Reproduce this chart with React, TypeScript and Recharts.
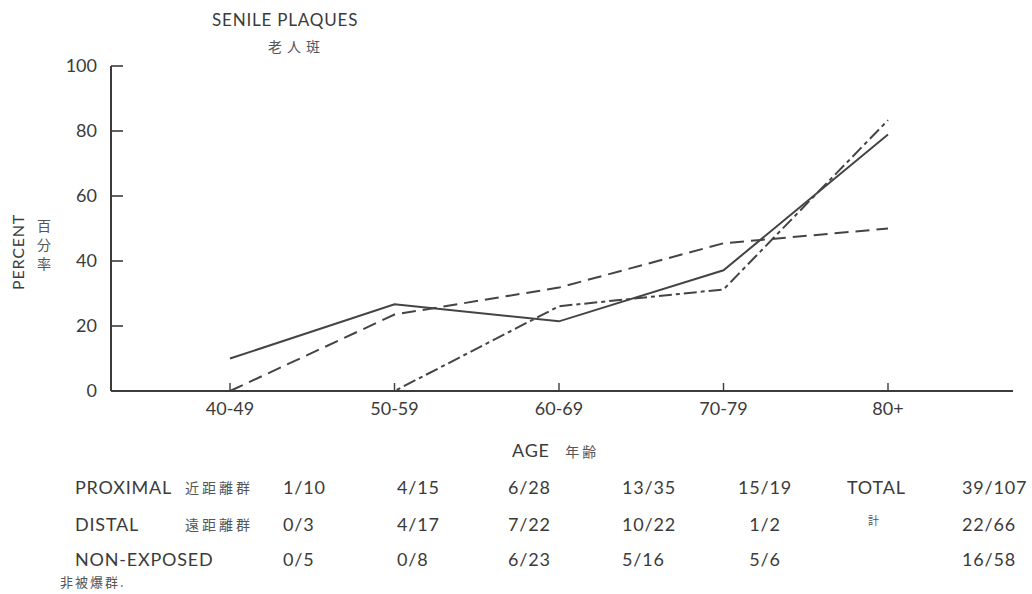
import { LineChart, Line, XAxis, YAxis } from 'recharts';

// age groups on the x axis
const ageGroups = ['40-49', '50-59', '60-69', '70-79', '80+'];

// cases with senile plaques / cases examined, per age group
const proximalCounts = [[1, 10], [4, 15], [6, 28], [13, 35], [15, 19]];
const distalCounts = [[0, 3], [4, 17], [7, 22], [10, 22], [1, 2]];
const nonExposedCounts = [[0, 5], [0, 8], [6, 23], [5, 16], [5, 6]];
const totalCounts = [[39, 107], [22, 66], [16, 58]];

const percentTicks = [0, 20, 40, 60, 80, 100];

const INK = '#3b3b3b';
const LATIN = "Lato, 'Noto Sans', sans-serif";
const CJK = "'Noto Sans CJK JP', sans-serif";

const pct = ([n, d]: number[]) => (n / d) * 100;
const frac = ([n, d]: number[]) => `${n}/${d}`;

const data = ageGroups.map((age, i) => ({
  age,
  proximal: pct(proximalCounts[i]),
  distal: pct(distalCounts[i]),
  nonExposed: pct(nonExposedCounts[i]),
}));

// y ticks point inward, into the plot
function PercentTick(props: any) {
  const { x, y, payload } = props;
  return (
    <g>
      <line x1={x + 14} x2={x + 26} y1={y} y2={y} stroke={INK} strokeWidth={1.6} />
      <text x={x} y={y} dy={6} textAnchor="end" fill={INK} fontSize={18} fontFamily={LATIN}>
        {payload.value}
      </text>
    </g>
  );
}

// x ticks point up from the axis
function AgeTick(props: any) {
  const { x, y, payload } = props;
  return (
    <g>
      <line x1={x} x2={x} y1={y} y2={y - 8} stroke={INK} strokeWidth={1.4} />
      <text x={x} y={y + 24} textAnchor="middle" fill={INK} fontSize={18} fontFamily={LATIN}>
        {payload.value}
      </text>
    </g>
  );
}

const abs = (left: number, top: number, extra: any = {}) => ({
  position: 'absolute' as const,
  left,
  top,
  whiteSpace: 'nowrap' as const,
  lineHeight: 1,
  ...extra,
});

const latin = { fontFamily: LATIN, fontSize: 18, letterSpacing: 0.8, color: INK };
const cjk = { fontFamily: CJK, fontSize: 14, letterSpacing: 3, color: '#555' };

// table rows under the chart
const rows = [
  { label: 'PROXIMAL', jp: '近距離群', counts: proximalCounts, total: totalCounts[0] },
  { label: 'DISTAL', jp: '遠距離群', counts: distalCounts, total: totalCounts[1] },
  { label: 'NON-EXPOSED', jp: '', counts: nonExposedCounts, total: totalCounts[2] },
];
const rowTops = [478, 515, 550];
const colLefts = [283, 397, 508, 622];

export default function App() {
  return (
    <div style={{ position: 'absolute', left: 0, top: 0, width: 1032, height: 594, background: '#fff', overflow: 'hidden' }}>
      <LineChart
        width={1032}
        height={594}
        data={data}
        margin={{ top: 66, right: 19, bottom: 0, left: 0 }}
      >
        <XAxis
          dataKey="age"
          height={203}
          padding={{ left: 119, right: 125 }}
          axisLine={{ stroke: INK, strokeWidth: 2 }}
          tickLine={false}
          tickSize={0}
          tickMargin={0}
          tick={<AgeTick />}
          interval={0}
        />
        <YAxis
          width={111}
          domain={[0, 100]}
          ticks={percentTicks}
          axisLine={{ stroke: INK, strokeWidth: 2 }}
          tickLine={false}
          tickSize={0}
          tickMargin={14}
          tick={<PercentTick />}
        />
        <Line
          dataKey="proximal"
          stroke="#444"
          strokeWidth={2}
          dot={false}
          isAnimationActive={false}
        />
        <Line
          dataKey="distal"
          stroke="#444"
          strokeWidth={2}
          strokeDasharray="14 7"
          dot={false}
          isAnimationActive={false}
        />
        <Line
          dataKey="nonExposed"
          stroke="#444"
          strokeWidth={2}
          strokeDasharray="13 4 4 4"
          dot={false}
          isAnimationActive={false}
        />
      </LineChart>

      {/* title */}
      <div style={abs(212, 11, { ...latin, fontSize: 17 })}>SENILE PLAQUES</div>
      <div style={abs(268, 39, { ...cjk, fontSize: 14, letterSpacing: 5 })}>老人斑</div>

      {/* y axis title */}
      <div
        style={abs(-22, 244, {
          ...latin,
          fontSize: 16,
          transform: 'rotate(-90deg)',
          transformOrigin: 'center',
          width: 80,
          textAlign: 'center',
        })}
      >
        PERCENT
      </div>
      <div style={abs(37, 216, { ...cjk, fontSize: 14, lineHeight: '19px', letterSpacing: 0 })}>
        百<br />分<br />率
      </div>

      {/* x axis title */}
      <div style={abs(512, 441, latin)}>
        AGE <span style={{ ...cjk, marginLeft: 10 }}>年齢</span>
      </div>

      {/* counts table */}
      {rows.map((r, ri) => (
        <div key={r.label}>
          <div style={abs(75, rowTops[ri], latin)}>{r.label}</div>
          {r.jp && (
            <div style={abs(253, rowTops[ri] + 2, { ...cjk, transform: 'translateX(-100%)' })}>{r.jp}</div>
          )}
          {r.counts.slice(0, 4).map((c, ci) => (
            <div key={ci} style={abs(colLefts[ci], rowTops[ri], latin)}>
              {frac(c)}
            </div>
          ))}
          <div style={abs(765, rowTops[ri], { ...latin, transform: 'translateX(-50%)' })}>
            {frac(r.counts[4])}
          </div>
          <div style={abs(962, rowTops[ri], latin)}>{frac(r.total)}</div>
        </div>
      ))}
      <div style={abs(60, 575, { ...cjk, fontSize: 13, letterSpacing: 2 })}>非被爆群.</div>
      <div style={abs(847, rowTops[0], latin)}>TOTAL</div>
      <div style={abs(868, 515, { ...cjk, fontSize: 11 })}>計</div>
    </div>
  );
}
